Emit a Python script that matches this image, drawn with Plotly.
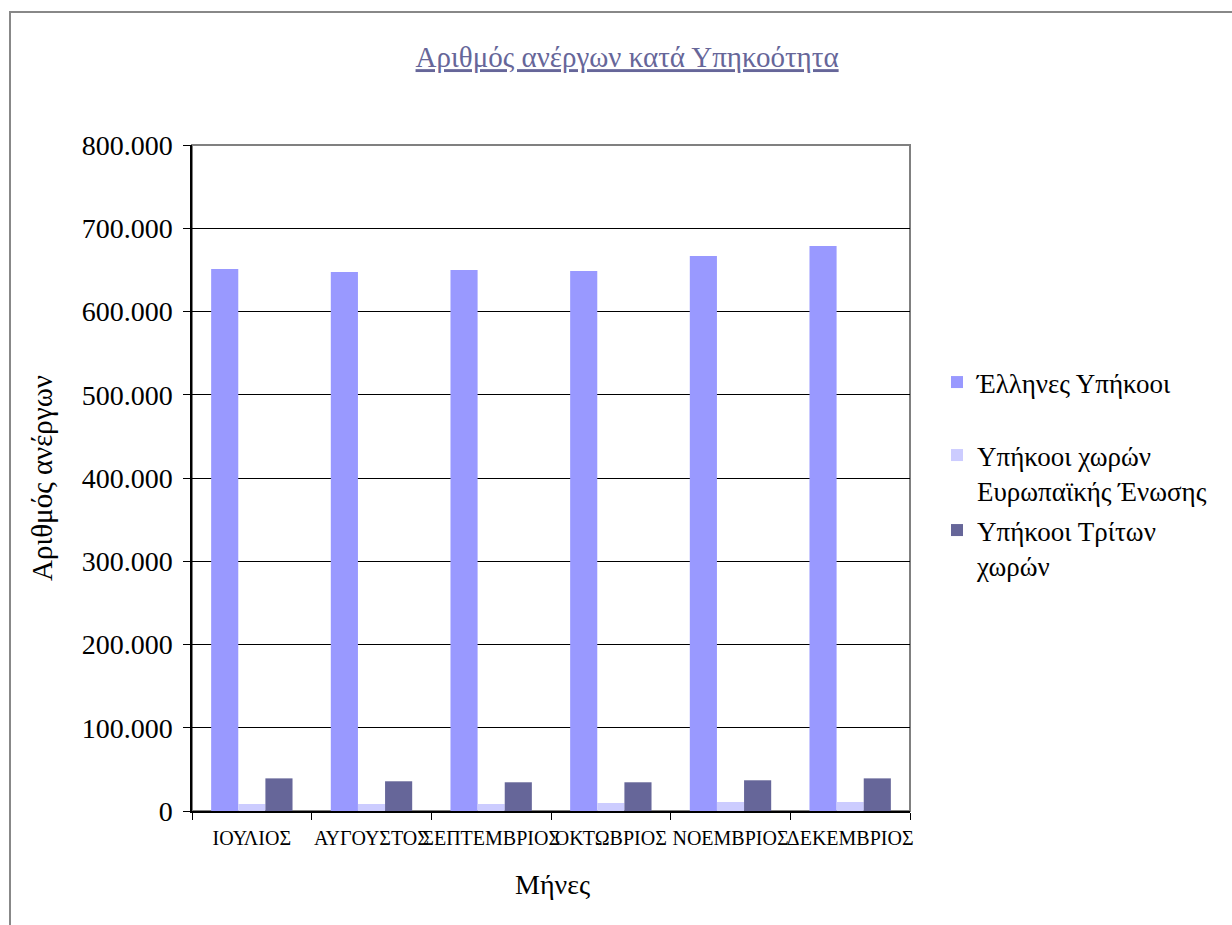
import plotly.graph_objects as go

# Monthly unemployed persons by citizenship
months = ["ΙΟΥΛΙΟΣ", "ΑΥΓΟΥΣΤΟΣ", "ΣΕΠΤΕΜΒΡΙΟΣ", "ΟΚΤΩΒΡΙΟΣ", "ΝΟΕΜΒΡΙΟΣ", "ΔΕΚΕΜΒΡΙΟΣ"]
greek = [651000, 647400, 649800, 648600, 666700, 678700]
eu = [8400, 8400, 8400, 9600, 10800, 10800]
third = [39200, 35700, 34500, 34500, 36900, 39200]

series_names = [
    "Έλληνες Υπήκοοι",
    "Υπήκοοι χωρών<br>Ευρωπαϊκής Ένωσης",
    "Υπήκοοι Τρίτων<br>χωρών",
]
series_colors = ["#9999FF", "#CCCCFF", "#666699"]

W, H = 1232, 925
L, R, T, B = 192, 322, 145, 114
pw, ph = W - L - R, H - T - B

def px_x(x):
    return (x - L) / pw

def px_y(y):
    return (H - B - y) / ph

FONT = "Liberation Serif"

fig = go.Figure()
legends = ["legend", "legend2", "legend3"]
for name, vals, col, lg in zip(series_names, [greek, eu, third], series_colors, legends):
    fig.add_trace(go.Bar(
        x=months, y=vals, name=name, marker=dict(color=col, line=dict(width=0)),
        legend=lg, showlegend=True,
    ))

leg_common = dict(font=dict(family=FONT, size=27, color="#000000"),
                  bgcolor="rgba(0,0,0,0)", xanchor="left", yanchor="top",
                  valign="top", itemwidth=30, visible=True)

fig.update_layout(
    width=W, height=H,
    margin=dict(l=L, r=R, t=T, b=B, autoexpand=False),
    paper_bgcolor="white", plot_bgcolor="white",
    barmode="group", bargap=0.32, bargroupgap=0,
    separators=",.",
    showlegend=True,
    font=dict(family=FONT, color="#000000"),
    title=dict(
        text='<span style="text-decoration:underline">Αριθμός ανέργων κατά Υπηκοότητα</span>',
        x=0.509, xanchor="center", y=1 - 57 / H, yanchor="middle",
        font=dict(family=FONT, size=29, color="#666699"),
    ),
    legend=dict(x=px_x(937), y=px_y(358), **leg_common),
    legend2=dict(x=px_x(937), y=px_y(431), **leg_common),
    legend3=dict(x=px_x(937), y=px_y(506), **leg_common),
    xaxis=dict(
        type="category", showline=True, linecolor="#000000", linewidth=1.5,
        ticks="outside", tickson="boundaries", ticklen=7, tickcolor="#000000",
        tickangle=0, showgrid=False, ticklabelstandoff=8,
        tickfont=dict(family=FONT, size=20, color="#000000"),
    ),
    yaxis=dict(
        range=[0, 800000], dtick=100000, tickformat=",d",
        showline=True, linecolor="#000000", linewidth=1.5,
        ticks="outside", ticklen=7, tickcolor="#000000",
        showgrid=True, gridcolor="#000000", gridwidth=1,
        zeroline=False, ticklabelstandoff=5,
        tickfont=dict(family=FONT, size=28, color="#000000"),
    ),
    shapes=[
        # plot area frame
        dict(type="rect", xref="paper", yref="paper", x0=0, x1=1, y0=0, y1=1,
             line=dict(color="#808080", width=2), layer="below"),
        # chart area frame
        dict(type="rect", xref="paper", yref="paper",
             x0=px_x(10), x1=px_x(1300), y0=px_y(1000), y1=px_y(12),
             line=dict(color="#888888", width=2), layer="below"),
    ],
    annotations=[
        dict(text="Αριθμός ανέργων", xref="paper", yref="paper",
             x=px_x(42), y=px_y(478), xanchor="center", yanchor="middle",
             textangle=-90, showarrow=False,
             font=dict(family=FONT, size=29, color="#000000")),
        dict(text="Μήνες", xref="paper", yref="paper",
             x=px_x(552), y=px_y(884), xanchor="center", yanchor="middle",
             showarrow=False, font=dict(family=FONT, size=28, color="#000000")),
    ],
)

fig.write_html("out.html")
